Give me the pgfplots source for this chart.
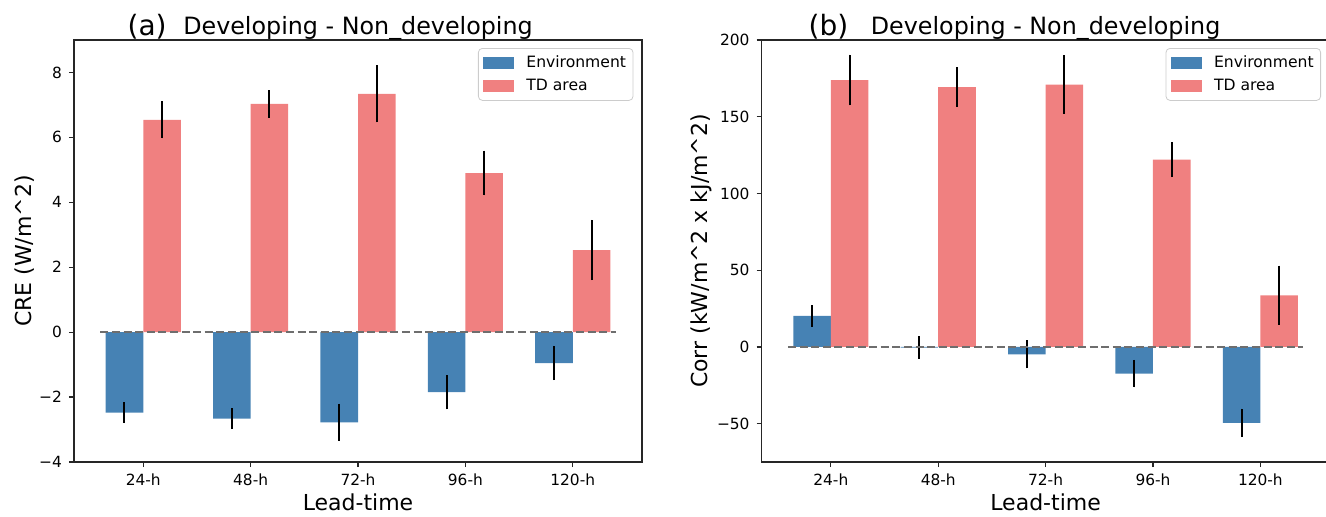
\documentclass[border=0pt]{standalone}
\usepackage{fontspec}
\setmainfont{DejaVu Sans}
\usepackage{pgfplots}
\pgfplotsset{compat=1.18}

\definecolor{envblue}{HTML}{4682B4}
\definecolor{tdred}{HTML}{F08080}
\definecolor{zerogray}{HTML}{6E6E6E}

\tikzset{panellabel/.style={anchor=base east, inner sep=0pt, font=\fontsize{14}{16}\selectfont}}

\pgfplotsset{
  panel/.style={
    scale only axis, width=284pt, height=211pt,
    anchor=south west, clip=false,
    xmin=-0.645, xmax=4.645,
    xtick={0,1,2,3,4}, xticklabels={24-h,48-h,72-h,96-h,120-h},
    tick align=outside, xtick pos=left, ytick pos=left,
    major tick length=2.5pt,
    tick style={line width=0.6pt, black!85},
    axis line style={line width=0.75pt, black!85},
    tick label style={font=\fontsize{7.7}{9}\selectfont},
    label style={font=\fontsize{11}{13}\selectfont},
    title style={at={(0.5,1)}, anchor=base, yshift=-3pt, font=\fontsize{11.9}{14}\selectfont},
    title={Developing - Non\_developing},
    xlabel={Lead-time},
    xlabel style={at={(axis description cs:0.5,0)}, anchor=base, yshift=-24pt},
    legend cell align=left,
    legend style={at={(1,1)}, anchor=north east, xshift=-4.3pt, yshift=-4pt,
      draw=black!20, rounded corners=2pt, inner sep=2.5pt, row sep=2pt,
      font=\fontsize{7.8}{9}\selectfont,
      nodes={inner sep=1pt, text height=6pt, text depth=1.5pt},
      /tikz/every odd column/.append style={column sep=5pt}},
  },
  % bars are centred on their own x (category -/+ 0.175), so error bars sit in the middle
  barset/.style={ybar, bar width=0.35, bar shift=0pt, draw=none,
    error bars/y dir=both, error bars/y explicit, error bars/error mark=none,
    error bars/error bar style={line width=1pt, black}},
  patch/.style={legend image code/.code={\fill[##1, sharp corners] (0pt,-3pt) rectangle (15.5pt,3pt);}},
  zeroline/.style={forget plot, no marks, zerogray, line width=1pt, dash pattern=on 4pt off 1.8pt},
}

\begin{document}
\begin{tikzpicture}
\useasboundingbox (-37pt,-27pt) rectangle (626pt,231pt);

% (a) CRE
\begin{axis}[panel, at={(0pt,0pt)},
  ymin=-4, ymax=9,
  ytick={-4,-2,0,2,4,6,8}, yticklabels={−4,−2,0,2,4,6,8},
  ylabel={CRE (W/m\^{}2)},
  ylabel style={at={([xshift=-21pt]axis description cs:0,0.5)}, anchor=base, rotate=0}]
\addplot[barset, fill=envblue, patch=envblue] coordinates {
  (-0.175,-2.48) +- (0,0.32)
  (0.825,-2.66) +- (0,0.33)
  (1.825,-2.78) +- (0,0.58)
  (2.825,-1.85) +- (0,0.53)
  (3.825,-0.95) +- (0,0.53)
};
\addlegendentry{Environment}
\addplot[barset, fill=tdred, patch=tdred] coordinates {
  (0.175,6.54) +- (0,0.57)
  (1.175,7.03) +- (0,0.42)
  (2.175,7.34) +- (0,0.88)
  (3.175,4.90) +- (0,0.69)
  (4.175,2.53) +- (0,0.93)
};
\addlegendentry{TD area}
\addplot[zeroline] coordinates {(-0.4,0) (4.4,0)};
\node[panellabel] at ([xshift=46.5pt,yshift=2.5pt]rel axis cs:0,1) {(a)};
\end{axis}

% (b) Corr
\begin{axis}[panel, at={(343.8pt,0pt)},
  ymin=-75, ymax=200,
  ytick={-50,0,50,100,150,200}, yticklabels={−50,0,50,100,150,200},
  ylabel={Corr (kW/m\^{}2 x kJ/m\^{}2)},
  ylabel style={at={([xshift=-27.3pt]axis description cs:0,0.5)}, anchor=base, rotate=0}]
\addplot[barset, fill=envblue, patch=envblue] coordinates {
  (-0.175,20.3) +- (0,7.0)
  (0.825,-0.5) +- (0,7.3)
  (1.825,-4.8) +- (0,9.2)
  (2.825,-17.4) +- (0,9.0)
  (3.825,-49.5) +- (0,9.3)
};
\addlegendentry{Environment}
\addplot[barset, fill=tdred, patch=tdred] coordinates {
  (0.175,173.9) +- (0,16.5)
  (1.175,169.3) +- (0,12.9)
  (2.175,171.0) +- (0,19.2)
  (3.175,122.0) +- (0,11.4)
  (4.175,33.6) +- (0,19.3)
};
\addlegendentry{TD area}
\addplot[zeroline] coordinates {(-0.4,0) (4.4,0)};
\node[panellabel] at ([xshift=43.5pt,yshift=2.5pt]rel axis cs:0,1) {(b)};
\end{axis}
\end{tikzpicture}
\end{document}
